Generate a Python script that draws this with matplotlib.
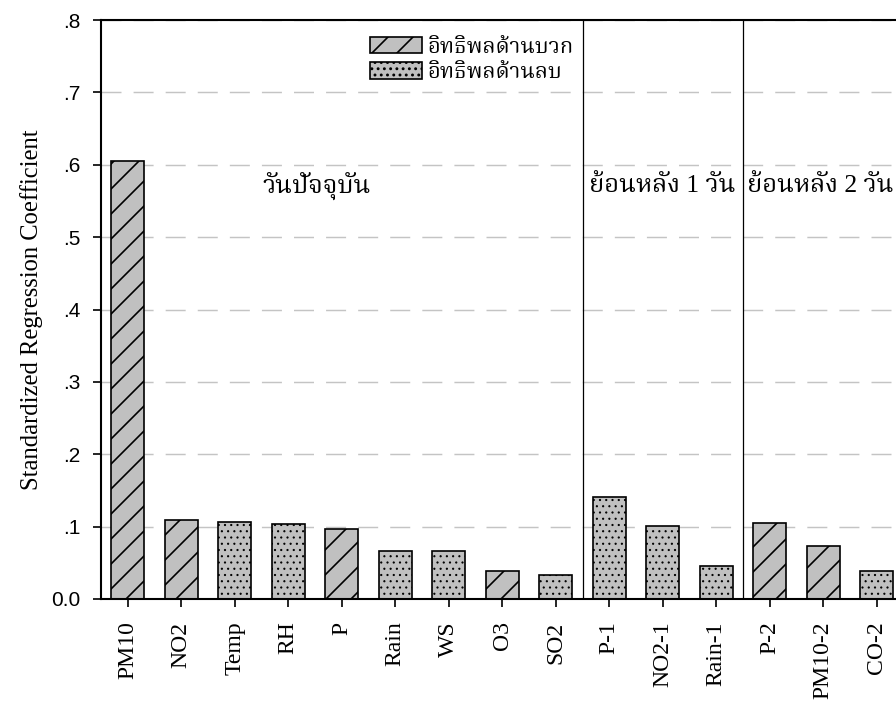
import matplotlib
matplotlib.use("Agg")
import matplotlib.pyplot as plt
import numpy as np

# Standardized regression coefficients per predictor
variables = ["PM10", "NO2", "Temp", "RH", "P", "Rain", "WS", "O3", "SO2",
             "P-1", "NO2-1", "Rain-1", "P-2", "PM10-2", "CO-2"]
coefficients = [0.605, 0.109, 0.107, 0.103, 0.097, 0.067, 0.067, 0.038, 0.033,
                0.141, 0.101, 0.046, 0.105, 0.073, 0.038]
effect = ["pos", "pos", "neg", "neg", "pos", "neg", "neg", "pos", "neg",
          "neg", "neg", "neg", "pos", "pos", "neg"]

# Time windows: same day, 1-day lag, 2-day lag
period_labels = ["วันปัจจุบัน", "ย้อนหลัง 1 วัน", "ย้อนหลัง 2 วัน"]
period_sizes = [9, 3, 3]
period_label_x = [3.53, 10.0, 12.95]
period_label_y = 0.570

legend_labels = ["อิทธิพลด้านบวก", "อิทธิพลด้านลบ"]

y_ticks = [0.0, 0.1, 0.2, 0.3, 0.4, 0.5, 0.6, 0.7, 0.8]
y_tick_labels = ["0.0", ".1", ".2", ".3", ".4", ".5", ".6", ".7", ".8"]

DPI = 150

serif = ["Liberation Serif", "DejaVu Serif"]
thai = ["Liberation Serif", "Noto Serif Thai", "Taviraj", "Trirong",
        "Noto Sans Thai", "Sarabun", "Athiti"]
sans = ["Liberation Sans", "DejaVu Sans"]

fig = plt.figure(figsize=(896 / DPI, 703 / DPI), dpi=DPI)
ax = fig.add_axes([101 / 896, 1 - 599 / 703, 802.5 / 896, 579 / 703])

x = np.arange(len(variables))
vals = np.array(coefficients)
eff = np.array(effect)

# Positive effects: diagonal hatch; negative effects: dotted fill
styles = {"pos": ("//", 0.8), "neg": ("....", 0.45)}
containers = {}
for key in ("pos", "neg"):
    hatch, hlw = styles[key]
    mask = eff == key
    with plt.rc_context({"hatch.linewidth": hlw}):
        containers[key] = ax.bar(x[mask], vals[mask], width=0.61,
                                 color="#c0c0c0", edgecolor="black",
                                 linewidth=0.8, hatch=hatch, zorder=2)

# Separators between the time windows
bounds = np.cumsum(period_sizes)[:-1] - 0.5
for b in bounds:
    ax.axvline(b, color="black", linewidth=0.6, zorder=1.5)

for label, px in zip(period_labels, period_label_x):
    ax.text(px, period_label_y, label, ha="center", va="center",
            fontsize=12.3, family=thai, zorder=3)

ax.set_xlim(-0.5, len(variables) - 0.5)
ax.set_ylim(0, 0.8)
ax.set_yticks(y_ticks)
ax.set_yticklabels(y_tick_labels, family=sans, fontsize=10)
ax.set_xticks(x)
ax.set_xticklabels(variables, rotation=90, family=serif, fontsize=11.4)
ax.tick_params(axis="both", direction="out", length=3.8, width=0.8)
ax.tick_params(axis="x", pad=7)
ax.tick_params(axis="y", pad=6)

lw = 0.7
ax.set_axisbelow(True)
ax.yaxis.grid(True, color="#c4c4c4", linewidth=lw,
              linestyle=(0, (9.6 / lw, 5.8 / lw)))
ax.xaxis.grid(False)

for s in ("left", "bottom", "top", "right"):
    ax.spines[s].set_linewidth(1.0)

ax.set_ylabel("Standardized Regression Coefficient", family=serif,
              fontsize=11.8, labelpad=4)

leg_size = 10.5
em = leg_size * DPI / 72
with plt.rc_context({"hatch.linewidth": 0.8}):
    ax.legend([containers["pos"], containers["neg"]], legend_labels,
              loc="upper left", bbox_to_anchor=(370 / 896, 1 - 37 / 703),
              bbox_transform=fig.transFigure, frameon=False,
              prop={"family": thai, "size": leg_size},
              handlelength=52 / em, handleheight=17 / em,
              handletextpad=6 / em, labelspacing=0.2,
              borderpad=0, borderaxespad=0)

fig.savefig("out.png", dpi=DPI)
